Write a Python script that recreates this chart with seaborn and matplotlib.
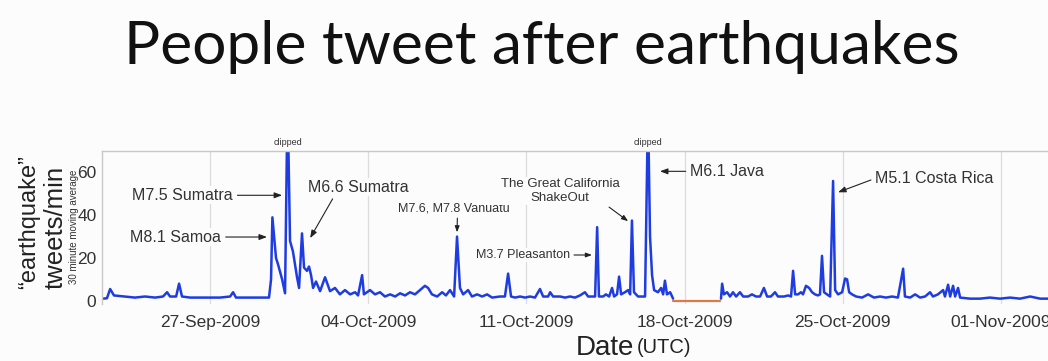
import numpy as np
import pandas as pd
import matplotlib
matplotlib.use("Agg")
import matplotlib.pyplot as plt
import matplotlib.dates as mdates
import seaborn as sns

# ================= Data ================= #
# time axis: days since 2009-09-22 00:00 UTC, values: tweets/min (30 min moving average)
t0 = pd.Timestamp("2009-09-22 00:00")
days = [0.27, 0.44, 0.58, 0.75, 1.24, 1.68, 2.12, 2.57, 2.92, 3.10, 3.23, 3.50, 3.63, 3.76,
        4.12, 4.56, 5.00, 5.44, 5.89, 6.02, 6.15, 6.55, 6.99, 7.30, 7.61, 7.70, 7.76, 7.92,
        8.01, 8.19, 8.32, 8.43, 8.54, 8.67, 8.85, 8.94, 9.07, 9.16, 9.29, 9.38, 9.47, 9.56,
        9.69, 9.87, 10.09, 10.31, 10.53, 10.75, 10.97, 11.20, 11.42, 11.55, 11.73, 11.81,
        12.08, 12.30, 12.52, 12.74, 12.97, 13.19, 13.41, 13.63, 13.85, 14.07, 14.29, 14.51,
        14.65, 14.82, 15.05, 15.27, 15.44, 15.62, 15.80, 15.93, 16.06, 16.20, 16.42, 16.59,
        16.82, 17.04, 17.26, 17.48, 17.83, 18.05, 18.19, 18.32, 18.50, 18.72, 18.94, 19.16,
        19.38, 19.60, 19.74, 19.96, 20.05, 20.18, 20.49, 20.71, 20.93, 21.15, 21.37, 21.59,
        21.73, 21.90, 22.04, 22.13, 22.21, 22.39, 22.52, 22.66, 22.79, 22.88, 23.01, 23.10,
        23.19, 23.36, 23.50, 23.59, 23.67, 23.76, 23.94, 24.12, 24.25, 24.38, 24.47, 24.56,
        24.65, 24.82, 24.96, 25.05, 25.13, 25.22, 25.36, 25.49]
tweets = [1.0, 1.2, 5.5, 2.5, 2.0, 1.5, 2.0, 1.5, 2.0, 4.0, 2.0, 2.0, 8.0, 2.0,
          1.5, 1.5, 1.5, 1.5, 2.0, 4.0, 1.5, 1.5, 1.5, 1.5, 1.5, 10.0, 39.0, 20.0,
          17.0, 10.0, 3.5, 95.0, 28.0, 23.0, 11.0, 6.0, 31.5, 15.5, 14.0, 16.0, 12.0, 6.0,
          9.0, 4.5, 11.0, 4.5, 6.0, 3.0, 5.0, 3.0, 4.0, 2.5, 12.0, 3.0,
          5.0, 3.0, 4.0, 2.0, 3.0, 2.0, 3.5, 2.5, 4.0, 3.0, 5.0, 7.0,
          6.0, 3.0, 2.0, 4.0, 2.5, 5.0, 2.0, 30.0, 6.0, 3.0, 5.0, 2.0,
          3.0, 2.0, 3.0, 1.5, 2.0, 2.0, 12.7, 2.0, 1.5, 2.0, 1.5, 2.0,
          1.5, 5.5, 2.0, 2.0, 4.0, 2.0, 2.0, 1.5, 2.0, 1.5, 2.5, 4.0,
          2.0, 2.0, 2.0, 34.4, 2.0, 2.0, 3.0, 2.0, 6.0, 2.0, 3.0, 11.3,
          3.0, 4.0, 5.0, 3.0, 37.5, 4.0, 2.0, 2.0, 2.0, 90.0, 30.0, 12.0,
          5.0, 4.0, 6.0, 3.0, 9.4, 3.0, 4.0, 1.0]
days2 = [27.61, 27.66, 27.74, 27.88, 28.01, 28.14, 28.28, 28.45, 28.59, 28.81, 28.98, 29.16,
         29.34, 29.51, 29.65, 29.82, 30.00, 30.13, 30.40, 30.58, 30.71, 30.80, 30.89, 31.02,
         31.15, 31.24, 31.37, 31.51, 31.64, 31.77, 31.90, 31.99, 32.08, 32.17, 32.30, 32.44,
         32.57, 32.66, 32.79, 32.97, 33.10, 33.19, 33.28, 33.41, 33.59, 33.85, 34.12, 34.38,
         34.65, 34.91, 35.18, 35.44, 35.67, 35.75, 35.98, 36.20, 36.42, 36.64, 36.86, 36.99,
         37.21, 37.44, 37.52, 37.66, 37.75, 37.88, 37.97, 38.10, 38.19, 38.63, 39.07, 39.51,
         39.96, 40.40, 40.84, 41.29, 41.73, 42.08]
tweets2 = [1.0, 8.0, 3.0, 4.0, 2.0, 4.0, 2.0, 4.0, 2.0, 2.0, 3.0, 2.0,
           2.0, 6.0, 2.0, 2.0, 4.0, 2.0, 2.0, 2.5, 2.0, 14.0, 3.0, 3.0,
           4.0, 3.0, 7.0, 6.0, 4.0, 3.0, 2.5, 3.0, 21.0, 4.0, 3.0, 2.0,
           56.0, 5.0, 3.0, 4.0, 10.4, 10.0, 4.0, 3.0, 2.0, 1.5, 3.0, 1.5,
           2.0, 1.5, 2.0, 1.5, 15.0, 2.0, 1.5, 3.0, 1.5, 2.0, 4.0, 2.0,
           3.0, 5.0, 2.0, 7.5, 2.0, 7.0, 2.0, 6.0, 1.5, 1.0, 1.0, 1.5,
           1.0, 1.5, 1.0, 2.0, 1.0, 1.0]
# missing data period
gap_days = [25.49, 27.57]
gap_vals = [0.0, 0.0]

tick_dates = ["2009-09-27", "2009-10-04", "2009-10-11", "2009-10-18", "2009-10-25", "2009-11-01"]


def when(d):
    return t0 + pd.Timedelta(days=d)


df = pd.DataFrame({"date": [when(d) for d in days + days2],
                   "tweets": tweets + tweets2,
                   "seg": ["a"] * len(days) + ["b"] * len(days2)})
dfgap = pd.DataFrame({"date": [when(d) for d in gap_days], "tweets": gap_vals})

# ================= Plot ================= #
sns.set_theme(style="white")
plt.rcParams["font.family"] = ["Liberation Sans", "DejaVu Sans"]
bg = "#fbfcfb"
fig = plt.figure(figsize=(10.48, 3.61), dpi=100, facecolor=bg)
ax = fig.add_axes([102 / 1048, 1 - 304 / 361, 1 - 102 / 1048 + 0.02, (304 - 151) / 361])
ax.set_facecolor(bg)

blue = "#1f3ce0"
sns.lineplot(data=df, x="date", y="tweets", units="seg", estimator=None, sort=False,
             color=blue, lw=1.8, ax=ax)
sns.lineplot(data=dfgap, x="date", y="tweets", estimator=None, color="#e0784a", lw=1.6, ax=ax)

ax.set_ylim(-1.5, 70)
ax.set_xlim(when(0.22), when(42.08 + 0.02 * 1048 / 22.6))
ax.set_yticks([0, 20, 40, 60])
ax.set_xticks(pd.to_datetime(tick_dates))
ax.xaxis.set_major_formatter(mdates.DateFormatter("%d-%b-%Y"))
ax.tick_params(axis="both", labelsize=12.5, colors="#333333", direction="in",
               length=4, width=0.8)
ax.tick_params(axis="x", length=0, pad=8)
ax.tick_params(axis="y", pad=4)
for lab in ax.get_xticklabels() + ax.get_yticklabels():
    lab.set_color("#333333")
ax.grid(axis="x", color="#dcdcdc", lw=0.9)
for s in ["right", "bottom"]:
    ax.spines[s].set_visible(False)
for s in ["left", "top"]:
    ax.spines[s].set_color("#c8c8c8")
    ax.spines[s].set_linewidth(1.0)
ax.set_xlabel("")
ax.set_ylabel("")

# axis labels
fig.text(29 / 1048, 1 - 222 / 361, "\u201cearthquake\u201d", rotation=90, ha="center", va="center",
         fontsize=17, color="#222222")
fig.text(56 / 1048, 1 - 227 / 361, "tweets/min", rotation=90, ha="center", va="center",
         fontsize=18.5, color="#222222")
fig.text(74 / 1048, 1 - 227 / 361, "30 minute moving average", rotation=90, ha="center",
         va="center", fontsize=7, color="#333333")
fig.text(634 / 1048, 1 - 355 / 361, "Date", ha="right", va="baseline", fontsize=20, color="#222222")
fig.text(637 / 1048, 1 - 353 / 361, "(UTC)", ha="left", va="baseline", fontsize=14.5, color="#222222")

# title
fig.text(542 / 1048, 1 - 64 / 361, "People tweet after earthquakes", ha="center", va="baseline",
         fontsize=43.5, family=["Lato", "DejaVu Sans"], color="#111111")

# annotations
box = dict(boxstyle="square,pad=0.1", fc=bg, ec="none")
arw = dict(arrowstyle="-|>,head_length=0.4,head_width=0.15", color="#222222", lw=0.8,
           shrinkA=2, shrinkB=0)
big, small = 11.5, 9
ax.annotate("M8.1 Samoa", xy=(when(7.52), 29.8), xytext=(when(5.50), 29.8), ha="right", va="center",
            fontsize=big, color="#333333", bbox=box, arrowprops=dict(arw, relpos=(1, 0.5)))
ax.annotate("M7.5 Sumatra", xy=(when(8.19), 49.3), xytext=(when(6.02), 49.3), ha="right", va="center",
            fontsize=big, color="#333333", bbox=box, arrowprops=dict(arw, relpos=(1, 0.5)))
ax.annotate("M6.6 Sumatra", xy=(when(9.43), 29.3), xytext=(when(11.55), 53.0), ha="center", va="center",
            fontsize=big, color="#333333", bbox=box, arrowprops=dict(arw, relpos=(0.27, 0)))
ax.annotate("M7.6, M7.8 Vanuatu", xy=(when(15.93), 32.0), xytext=(when(15.80), 43.3), ha="center",
            va="center", fontsize=small, color="#333333", bbox=box,
            arrowprops=dict(arw, relpos=(0.53, 0)))
ax.annotate("M3.7 Pleasanton", xy=(when(21.90), 21.4), xytext=(when(20.93), 21.4), ha="right",
            va="center", fontsize=small, color="#333333", bbox=box,
            arrowprops=dict(arw, relpos=(1, 0.5)))
ax.annotate("The Great California\nShakeOut", xy=(when(23.50), 37.2), xytext=(when(20.49), 51.2),
            ha="center", va="center", fontsize=small + 0.5, color="#333333", bbox=box,
            multialignment="center", arrowprops=dict(arw, relpos=(0.82, 0.2)))
ax.annotate("M6.1 Java", xy=(when(24.91), 60.5), xytext=(when(26.24), 60.5), ha="left", va="center",
            fontsize=big, color="#333333", bbox=box, arrowprops=dict(arw, relpos=(0, 0.5)))
ax.annotate("M5.1 Costa Rica", xy=(when(32.79), 50.7), xytext=(when(34.43), 57.2), ha="left",
            va="center", fontsize=big, color="#333333", bbox=box, arrowprops=dict(arw, relpos=(0, 0.5)))
for d in [8.43, 24.38]:
    ax.text(when(d), 74, "clipped", ha="center", va="center", fontsize=6.5, color="#333333",
            clip_on=False)

fig.savefig("out.png", dpi=100, facecolor=bg)
